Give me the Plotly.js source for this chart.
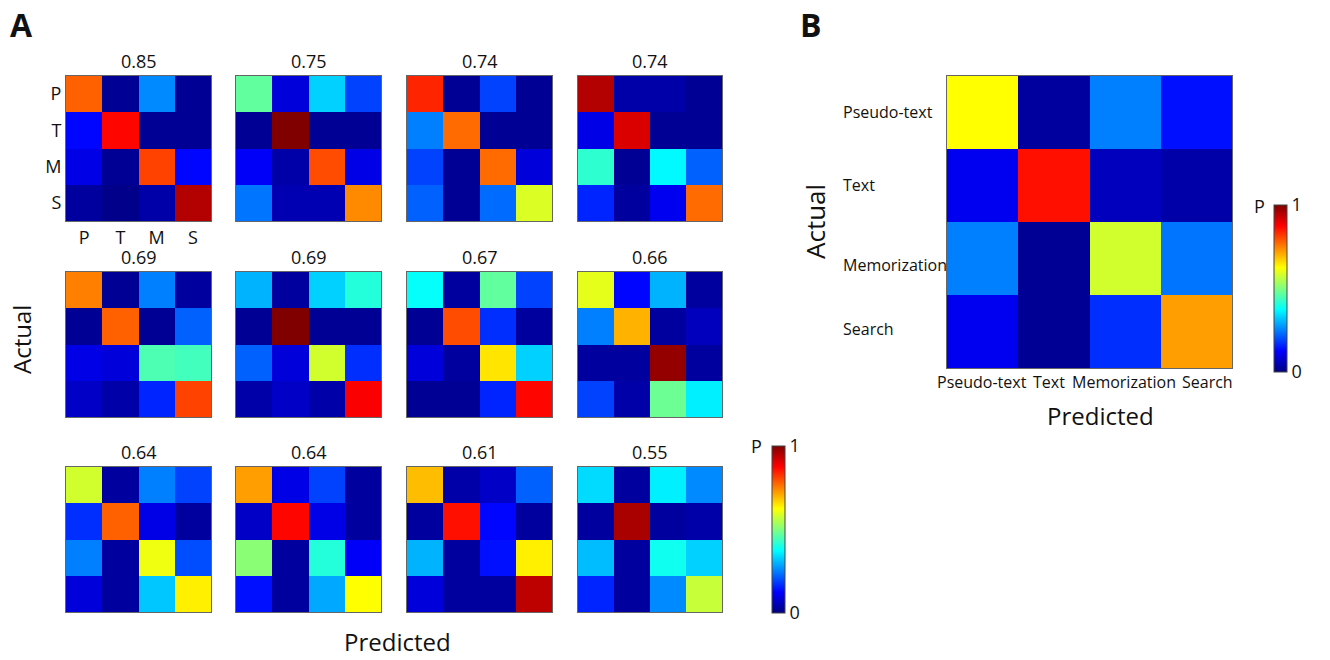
<!DOCTYPE html>
<html>
<head>
<meta charset="utf-8">
<script src="https://cdn.plot.ly/plotly-3.0.1.min.js"></script>
<style>html,body{margin:0;padding:0;background:#fff;}#chart{width:1330px;height:660px;}</style>
</head>
<body>
<div id="chart"></div>
<script>
// ---------- DATA ----------
const shortLabels = ['P', 'T', 'M', 'S'];
const longLabels = ['Pseudo-text', 'Text', 'Memorization', 'Search'];
const accuracies = ['0.85', '0.75', '0.74', '0.74', '0.69', '0.69', '0.67', '0.66', '0.64', '0.64', '0.61', '0.55'];

// rows = actual (P,T,M,S), columns = predicted (P,T,M,S)
const m1 = [[0.78, 0.02, 0.26, 0.02], [0.13, 0.87, 0.02, 0.02], [0.10, 0.02, 0.81, 0.13], [0.03, 0.01, 0.04, 0.95]];
const m2 = [[0.47, 0.09, 0.33, 0.19], [0.02, 1.00, 0.02, 0.02], [0.12, 0.04, 0.80, 0.10], [0.24, 0.05, 0.05, 0.74]];
const m3 = [[0.84, 0.02, 0.19, 0.02], [0.25, 0.77, 0.02, 0.02], [0.19, 0.02, 0.77, 0.09], [0.22, 0.02, 0.23, 0.59]];
const m4 = [[0.95, 0.04, 0.04, 0.02], [0.10, 0.91, 0.02, 0.02], [0.42, 0.02, 0.37, 0.22], [0.16, 0.03, 0.11, 0.77]];
const m5 = [[0.75, 0.02, 0.25, 0.03], [0.02, 0.78, 0.02, 0.22], [0.10, 0.09, 0.45, 0.44], [0.07, 0.04, 0.16, 0.81]];
const m6 = [[0.30, 0.03, 0.33, 0.41], [0.02, 1.00, 0.02, 0.02], [0.22, 0.09, 0.58, 0.17], [0.04, 0.07, 0.04, 0.88]];
const m7 = [[0.38, 0.03, 0.47, 0.19], [0.02, 0.80, 0.17, 0.03], [0.09, 0.03, 0.65, 0.33], [0.02, 0.02, 0.16, 0.87]];
const m8 = [[0.60, 0.13, 0.30, 0.03], [0.25, 0.70, 0.03, 0.06], [0.03, 0.03, 0.98, 0.03], [0.19, 0.04, 0.48, 0.36]];
const m9 = [[0.58, 0.03, 0.25, 0.19], [0.17, 0.78, 0.10, 0.03], [0.25, 0.03, 0.61, 0.20], [0.09, 0.03, 0.32, 0.64]];
const m10 = [[0.72, 0.10, 0.19, 0.03], [0.07, 0.87, 0.10, 0.03], [0.51, 0.03, 0.41, 0.12], [0.14, 0.03, 0.29, 0.625]];
const m11 = [[0.69, 0.04, 0.07, 0.22], [0.03, 0.86, 0.13, 0.03], [0.30, 0.03, 0.14, 0.64], [0.09, 0.03, 0.03, 0.94]];
const m12 = [[0.34, 0.03, 0.36, 0.26], [0.03, 0.96, 0.03, 0.04], [0.31, 0.03, 0.39, 0.33], [0.16, 0.03, 0.26, 0.57]];
const mB = [[0.625, 0.03, 0.25, 0.14], [0.11, 0.86, 0.06, 0.04], [0.25, 0.02, 0.58, 0.24], [0.11, 0.02, 0.17, 0.72]];

const matricesA = [m1, m2, m3, m4, m5, m6, m7, m8, m9, m10, m11, m12];

// ---------- STYLE / LAYOUT ----------
const W = 1330, H = 660;
const FONT = 'Open Sans, Noto Sans, sans-serif';
const jet = [[0, '#000080'], [0.125, '#0000FF'], [0.375, '#00FFFF'], [0.625, '#FFFF00'], [0.875, '#FF0000'], [1, '#800000']];
const px = v => v / W;
const py = v => 1 - v / H;

const colsX = [[66, 211], [236, 381], [407, 552], [578, 722]];
const rowsY = [[76, 221], [272, 417], [467, 612]];
const idx = [0, 1, 2, 3];

const data = [];
const layout = {
  width: W, height: H,
  margin: {l: 0, r: 0, t: 0, b: 0},
  paper_bgcolor: '#fff', plot_bgcolor: '#fff',
  font: {family: FONT, color: '#111', size: 18},
  showlegend: false,
  annotations: []
};

function axisBase(domain) {
  return {
    domain: domain, range: [-0.5, 3.5], showgrid: false, zeroline: false,
    showline: true, mirror: true, linecolor: '#666', linewidth: 1,
    ticks: '', fixedrange: true
  };
}

function cbar(xLeft, yBottom) {
  return {
    x: px(xLeft), xanchor: 'left', xpad: 0, ypad: 0,
    y: py(yBottom), yanchor: 'bottom', len: 167 / H, lenmode: 'fraction',
    thickness: 13, outlinewidth: 1, outlinecolor: '#444',
    tickvals: [0, 1], ticktext: ['0', '1'], ticks: '',
    tickfont: {size: 18, family: FONT}
  };
}

matricesA.forEach((m, i) => {
  const r = Math.floor(i / 4), c = i % 4;
  const n = i + 1;
  const sfx = n === 1 ? '' : String(n);
  const xAx = axisBase([px(colsX[c][0]), px(colsX[c][1])]);
  const yAx = axisBase([py(rowsY[r][1]), py(rowsY[r][0])]);
  yAx.range = [3.5, -0.5];
  xAx.anchor = 'y' + sfx;
  yAx.anchor = 'x' + sfx;
  if (i === 0) {
    xAx.tickvals = idx; xAx.ticktext = shortLabels; xAx.tickfont = {size: 18, family: FONT};
    yAx.tickvals = idx; yAx.ticktext = shortLabels; yAx.tickfont = {size: 18, family: FONT};
  } else {
    xAx.showticklabels = false; yAx.showticklabels = false;
  }
  layout['xaxis' + sfx] = xAx; layout['yaxis' + sfx] = yAx;
  data.push({
    type: 'heatmap', z: m, x: idx, y: idx,
    xaxis: 'x' + sfx, yaxis: 'y' + sfx,
    colorscale: jet, zmin: 0, zmax: 1,
    showscale: i === 11,
    colorbar: cbar(772, 613),
    hoverinfo: 'z'
  });
  layout.annotations.push({
    text: accuracies[i], xref: 'paper', yref: 'paper',
    x: px((colsX[c][0] + colsX[c][1]) / 2), y: py(rowsY[r][0] - 1),
    xanchor: 'center', yanchor: 'bottom', showarrow: false,
    font: {size: 18, family: FONT}
  });
});

// Panel B
const xB = axisBase([px(947), px(1232)]);
const yB = axisBase([py(368), py(76)]);
yB.range = [3.5, -0.5];
xB.anchor = 'y13'; yB.anchor = 'x13';
xB.showticklabels = false;
yB.showticklabels = false;
layout.xaxis13 = xB; layout.yaxis13 = yB;
data.push({
  type: 'heatmap', z: mB, x: idx, y: idx, xaxis: 'x13', yaxis: 'y13',
  colorscale: jet, zmin: 0, zmax: 1, showscale: true,
  colorbar: cbar(1274, 372),
  hoverinfo: 'z'
});
// row labels (left aligned) and column labels
const rowLabelY = [112, 185, 265, 329];
const colLabelX = [982, 1049, 1124, 1207];
longLabels.forEach((lab, k) => {
  layout.annotations.push({
    text: lab, xref: 'paper', yref: 'paper', x: px(841), y: py(rowLabelY[k]),
    xanchor: 'left', yanchor: 'middle', showarrow: false, font: {size: 16, family: FONT}
  });
  layout.annotations.push({
    text: lab, xref: 'paper', yref: 'paper', x: px(colLabelX[k]), y: py(382),
    xanchor: 'center', yanchor: 'middle', showarrow: false, font: {size: 16, family: FONT}
  });
});

// Panel letters, axis titles, colorbar titles
const extra = [
  {text: '<b>A</b>', x: 22, y: 25, size: 32},
  {text: '<b>B</b>', x: 811, y: 25, size: 32},
  {text: 'Actual', x: 21, y: 340, size: 24, angle: -90},
  {text: 'Predicted', x: 397, y: 641, size: 24},
  {text: 'Actual', x: 815, y: 222, size: 26, angle: -90},
  {text: 'Predicted', x: 1100, y: 415, size: 24},
  {text: 'P', x: 756, y: 446, size: 18},
  {text: 'P', x: 1259, y: 206, size: 18}
];
extra.forEach(e => {
  layout.annotations.push({
    text: e.text, xref: 'paper', yref: 'paper', x: px(e.x), y: py(e.y),
    xanchor: 'center', yanchor: 'middle', showarrow: false, textangle: e.angle || 0,
    borderpad: 0,
    font: {size: e.size, family: FONT, color: '#111'}
  });
});

Plotly.newPlot('chart', data, layout, {displayModeBar: false, staticPlot: true});
</script>
</body>
</html>
